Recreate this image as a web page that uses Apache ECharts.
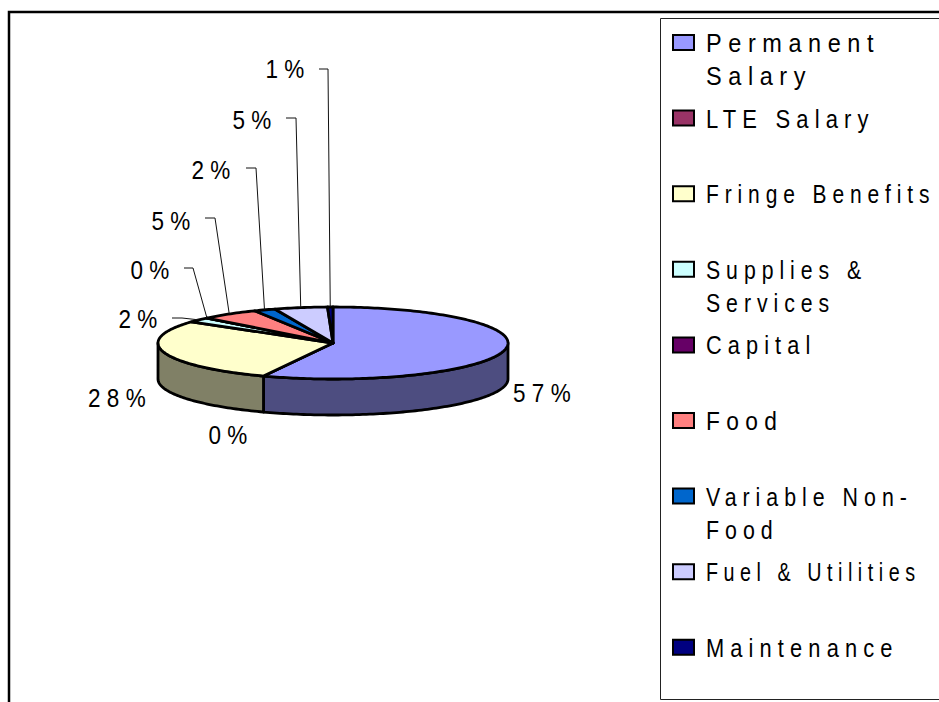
<!DOCTYPE html>
<html>
<head>
<meta charset="utf-8">
<script src="https://cdn.jsdelivr.net/npm/echarts@6/dist/echarts.min.js"></script>
<style>
html,body{margin:0;padding:0;background:#fff;}
#chart{width:939px;height:702px;letter-spacing:7px;}
</style>
</head>
<body>
<div id="chart"></div>
<script>
const categories = ['Permanent Salary','LTE Salary','Fringe Benefits','Supplies & Services','Capital','Food','Variable Non-Food','Fuel & Utilities','Maintenance'];
const values = [56.5,0,28.5,2.2,0,5.4,2.0,4.9,0.5];
const percentLabels = ['57%','0%','28%','2%','0%','5%','2%','5%','1%'];
const colors = ['#9999FF','#993366','#FFFFCC','#CCFFFF','#660066','#FF8080','#0066CC','#CCCCFF','#000080'];
const sideColors = ['#4D4D80','#4D1A33','#808066','#668080','#330033','#804040','#003366','#666680','#000040'];
const legendText = ['Permanent\nSalary','LTE Salary','Fringe Benefits','Supplies &\nServices','Capital','Food','Variable Non-\nFood','Fuel & Utilities','Maintenance'];
const legendXScale = [0.94,0.88,0.84,0.85,0.87,0.91,0.855,0.79,0.875];

// Label layout in pixels: text centre, and optional leader stub (start x, elbow x, y)
const labelLayout = [
  {x:545,y:393},
  {x:231,y:435},
  {x:120,y:398},
  {x:141,y:319,stub:[172,182,318]},
  {x:153,y:270,stub:[184,193,268]},
  {x:174,y:221,stub:[205,215,218]},
  {x:214,y:170,stub:[246,256,168]},
  {x:255,y:120,stub:[286,296,118]},
  {x:288,y:69,stub:[319,328,69]}
];
const FONT_FAMILY = '"Liberation Sans",Arial,sans-serif';
const FONT_SIZE = 25;
const LABEL_X_SCALE = 0.9;
const DEPTH = 1; // extrusion depth in y-axis units
const total = values.reduce((a,b)=>a+b,0);
const cum = []; values.reduce((a,b,i)=>(cum[i]=a,a+b),0);
const toAngle = p => p/total*2*Math.PI;
const rim = (a,dz) => [Math.sin(a), Math.cos(a)-(dz||0)];

function renderSlice(params, api){
  const i = api.value(0), v = api.value(1);
  const a0 = toAngle(cum[i]), a1 = toAngle(cum[i]+v);
  const children = [];
  const line = {stroke:'#000',lineWidth:2.8,lineJoin:'round'};
  // visible outer wall: angles between PI/2 and 3PI/2
  const s0 = Math.max(a0,Math.PI/2), s1 = Math.min(a1,3*Math.PI/2);
  if (s1 > s0){
    const top=[], bot=[];
    const n = Math.max(2,Math.ceil((s1-s0)/0.02));
    for(let k=0;k<=n;k++){
      const a = s0+(s1-s0)*k/n;
      top.push(api.coord(rim(a)));
      bot.unshift(api.coord(rim(a,DEPTH)));
    }
    children.push({type:'polygon',shape:{points:top.concat(bot)},style:Object.assign({fill:sideColors[i]},line)});
  }
  // top face
  const pts=[api.coord([0,0])];
  const n = Math.max(1,Math.ceil((a1-a0)/0.02));
  for(let k=0;k<=n;k++) pts.push(api.coord(rim(a0+(a1-a0)*k/n)));
  children.push({type:'polygon',shape:{points:pts},style:Object.assign({fill:colors[i]},line)});
  return {type:'group',children};
}

function renderLabel(params, api){
  const i = api.value(0), v = api.value(1);
  const L = labelLayout[i];
  const children = [{type:'text',x:L.x,y:L.y,scaleX:LABEL_X_SCALE,style:{text:percentLabels[i],x:0,y:0,align:'center',verticalAlign:'middle',fontFamily:FONT_FAMILY,fontSize:FONT_SIZE,fill:'#000'}}];
  if (L.stub){
    const end = api.coord(rim(toAngle(cum[i]+v/2)));
    children.push({type:'polyline',shape:{points:[[L.stub[0],L.stub[2]],[L.stub[1],L.stub[2]],end]},style:{stroke:'#111',lineWidth:1,fill:null}});
  }
  return {type:'group',children};
}

const seriesData = values.map((v,i)=>[i,v]);
const legendGraphics = [];
legendText.forEach((t,i)=>{
  const cy = 43 + i*75.6;
  legendGraphics.push({type:'rect',shape:{x:673,y:cy-8,width:21,height:15},style:{fill:colors[i],stroke:'#000',lineWidth:2}});
  legendGraphics.push({type:'text',x:706,y:cy-16,scaleX:legendXScale[i],style:{text:t,x:0,y:0,lineHeight:33,align:'left',verticalAlign:'top',fontFamily:FONT_FAMILY,fontSize:FONT_SIZE,fill:'#000'}});
});

const chart = echarts.init(document.getElementById('chart'),null,{renderer:'svg'});
chart.setOption({
  animation:false,
  backgroundColor:'#fff',
  grid:{left:158,width:350,top:307,height:72},
  xAxis:{type:'value',min:-1,max:1,show:false},
  yAxis:{type:'value',min:-1,max:1,show:false},
  graphic:[
    {type:'rect',shape:{x:9,y:12,width:1000,height:800},style:{fill:'none',stroke:'#000',lineWidth:2.5},z:-1},
    {type:'rect',shape:{x:660.5,y:18.5,width:400,height:681},style:{fill:'#fff',stroke:'#222',lineWidth:1},z:-1}
  ].concat(legendGraphics),
  series:[
    {type:'custom',clip:false,silent:true,data:seriesData,renderItem:renderSlice,encode:{x:0,y:1},z:2},
    {type:'custom',clip:false,silent:true,data:seriesData,renderItem:renderLabel,encode:{x:0,y:1},z:3}
  ]
});
</script>
</body>
</html>
